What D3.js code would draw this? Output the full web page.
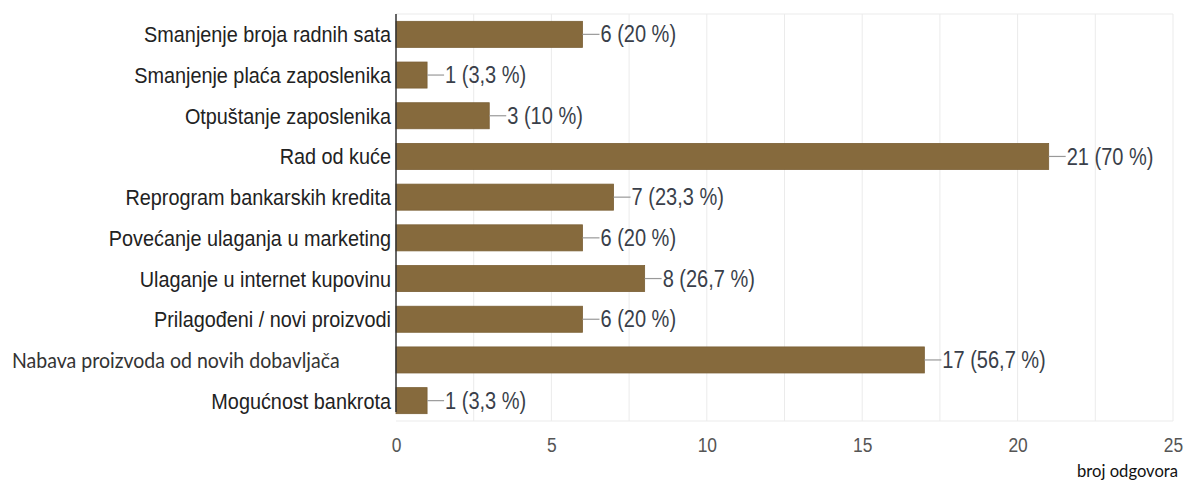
<!DOCTYPE html>
<html><head><meta charset="utf-8">
<script src="https://cdn.jsdelivr.net/npm/d3@7"></script>
<style>body{margin:0;background:#fff}svg{display:block}</style>
</head><body><svg id="c" width="1185" height="482"></svg>
<script>
const categories = ["Smanjenje broja radnih sata","Smanjenje plaća zaposlenika","Otpuštanje zaposlenika","Rad od kuće","Reprogram bankarskih kredita","Povećanje ulaganja u marketing","Ulaganje u internet kupovinu","Prilagođeni / novi proizvodi","Nabava proizvoda od novih dobavljača","Mogućnost bankrota"];
const counts = [6,1,3,21,7,6,8,6,17,1];
const percents = ["20","3,3","10","70","23,3","20","26,7","20","56,7","3,3"];
const ticks = [0,5,10,15,20,25];
const axisTitle = "broj odgovora";

const svg = d3.select("#c");
const x = d3.scaleLinear().domain([0,25]).range([396,1173]);
const y = d3.scaleBand().domain(categories).range([14,421]).paddingInner(0.36).paddingOuter(0.18);
const SX = 0.87;
const ARIAL = "Liberation Sans, Arial, sans-serif";

function ctext(g, tx, ty, str, opts) {
  return g.append("text")
    .attr("transform", `translate(${tx},${ty}) scale(${opts.sx||1},1)`)
    .attr("dy","0.35em")
    .attr("font-family", opts.family || ARIAL)
    .attr("font-size", opts.size)
    .attr("fill", opts.fill)
    .attr("text-anchor", opts.anchor || "start")
    .text(str);
}

// gridlines every 2.5
svg.append("g").selectAll("line").data(d3.range(2.5,25.01,2.5)).join("line")
  .attr("x1",d=>x(d)).attr("x2",d=>x(d)).attr("y1",14).attr("y2",421)
  .attr("stroke","#ebebeb").attr("stroke-width",1);
svg.append("line").attr("x1",396).attr("x2",1173).attr("y1",14).attr("y2",14).attr("stroke","#ebebeb");
svg.append("line").attr("x1",396).attr("x2",1173).attr("y1",421).attr("y2",421).attr("stroke","#ebebeb");

// bars
svg.append("g").selectAll("rect").data(counts).join("rect")
  .attr("x",x(0)).attr("y",(d,i)=>y(categories[i]))
  .attr("width",d=>x(d)-x(0)).attr("height",y.bandwidth())
  .attr("fill","#866a3d").attr("stroke","#7a5f35").attr("stroke-width",0.8);

// value annotations
const ann = svg.append("g");
counts.forEach((d,i)=>{
  const cy = y(categories[i])+y.bandwidth()/2;
  ann.append("line").attr("x1",x(d)).attr("x2",x(d)+17).attr("y1",cy).attr("y2",cy)
    .attr("stroke","#999").attr("stroke-width",1.2);
  ctext(ann, x(d)+18, cy, `${d} (${percents[i]} %)`, {size:23, sx:SX, fill:"#3a3f4a"});
});

// category labels
const lab = svg.append("g");
categories.forEach((c,i)=>{
  const cy = y(c)+y.bandwidth()/2;
  if (i===8) {
    ctext(lab, 12, cy, c, {family:"Lato, Open Sans, sans-serif", size:21.7, sx:0.9, fill:"#333"});
  } else {
    ctext(lab, 391, cy, c, {size:22.8, sx:SX, fill:"#222", anchor:"end"});
  }
});

// y axis line
svg.append("line").attr("x1",396).attr("x2",396).attr("y1",14).attr("y2",412)
  .attr("stroke","#333").attr("stroke-width",1.5);

// x axis ticks
const xa = svg.append("g").attr("transform","translate(0,445)")
  .call(d3.axisBottom(x).tickValues(ticks).tickSize(0).tickPadding(0));
xa.select(".domain").remove();
xa.selectAll(".tick text").remove();
xa.selectAll(".tick").each(function(d){
  ctext(d3.select(this), 0, 0, String(d), {size:20, sx:SX, fill:"#555", anchor:"middle"});
});

ctext(svg, 1178, 471, axisTitle, {family:"Lato, Open Sans, sans-serif", size:17.5, sx:0.95, fill:"#111", anchor:"end"});
</script></body></html>
